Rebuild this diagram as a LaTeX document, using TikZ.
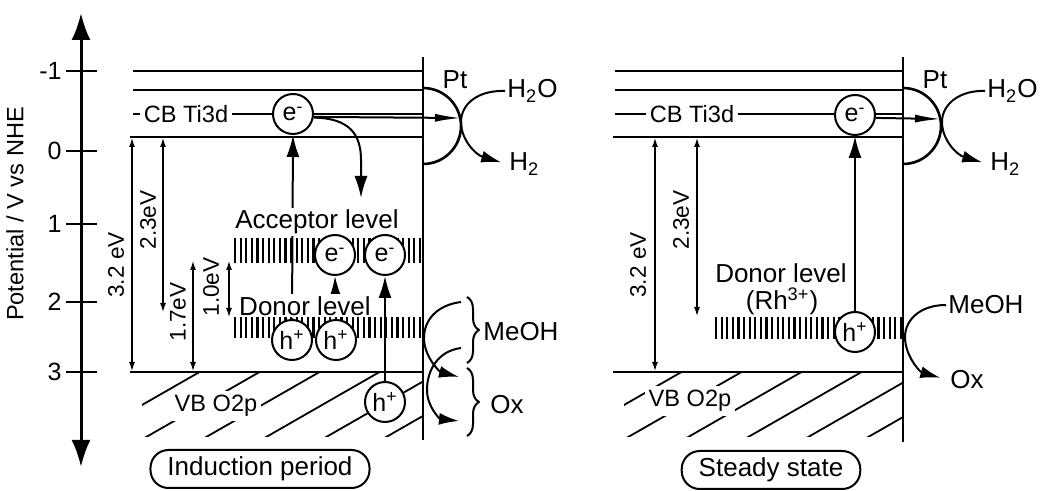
\documentclass[tikz,border=0pt]{standalone}
\usepackage{fontspec}
\setmainfont{Liberation Sans}
\usetikzlibrary{arrows.meta,decorations.pathreplacing}

\begin{document}
\begin{tikzpicture}[x=0.5pt, y=-0.5pt, line join=round]
  % Styles
  \tikzstyle{band}=[line width=1.3pt]
  \tikzstyle{carrier}=[circle, draw, fill=white, line width=1pt, minimum size=20pt, inner sep=0pt, font=\fontsize{12.5}{14}\selectfont]
  \tikzstyle{txt}=[font=\fontsize{13}{15}\selectfont, inner sep=1pt]
  \tikzstyle{lvltxt}=[font=\fontsize{13}{15}\selectfont, inner sep=1pt, fill=white]
  \tikzstyle{bandlabel}=[font=\fontsize{11.8}{14}\selectfont, fill=white, inner sep=2pt]
  \tikzstyle{gap}=[{Latex[length=5pt,width=3pt]}-{Latex[length=5pt,width=3pt]}, line width=1pt]
  \tikzstyle{gaplabel}=[font=\fontsize{11.3}{13}\selectfont, rotate=90, inner sep=1pt]
  \tikzstyle{excite}=[-{Latex[length=11pt,width=6.5pt]}, line width=1pt]
  \tikzstyle{inject}=[-{Latex[length=13pt,width=4pt]}, line width=1pt]
  \tikzstyle{flow}=[-{Latex[length=10pt,width=6pt]}, line width=1pt]
  \tikzstyle{levels}=[line width=1.1pt]
  \tikzstyle{hatchline}=[line width=0.9pt]
  \tikzstyle{tag}=[draw, rounded corners=9pt, line width=1pt, minimum height=19pt, inner xsep=8.5pt, font=\fontsize{13}{15}\selectfont]

  \useasboundingbox (0,0) rectangle (1040,491);

  % Potential axis
  \coordinate (axtop) at (81,13);
  \coordinate (axbot) at (81,467);
  \draw[line width=1.5pt, {Latex[length=13.5pt,width=9.5pt]}-{Latex[length=13.5pt,width=9.5pt]}] (axbot) -- (axtop);
  \foreach \v/\y in {-1/71,0/151,1/224,2/302,3/372} {
    \draw[band] (66,\y) -- (97,\y);
    \node[anchor=east, inner sep=1pt, font=\fontsize{12.5}{14}\selectfont] at (64,\y) {\v};
  }
  \node[rotate=90, font=\fontsize{11.8}{14}\selectfont] (axlabel) at (15,214) {Potential / V vs NHE};

  %%%%%%%%%%%%%%%% Induction period (left)
  % Bands
  \draw[band] (133,71) -- (423,71);
  \draw[band] (133,90) -- (423,90);
  \draw[band] (133,114) -- (423,114);
  \draw[band] (130,137) -- (423,137);
  \draw[band] (130,372) -- (423,372);
  \draw[band] (423,57) -- (423,440);

  % VB hatching
  \begin{scope}
    \clip (142,374) rectangle (422,437);
    \foreach \x in {93,153,...,393}
      \draw[hatchline] ({\x-12},440) -- ({\x+110},370);
  \end{scope}
  \node[bandlabel] (vbL) at (216,406) {VB O2p};
  \node[bandlabel] (cbL) at (186,114) {CB Ti3d};

  % Band gaps
  \coordinate (g1a) at (132,137); \coordinate (g1b) at (132,372);
  \coordinate (g2a) at (163,137); \coordinate (g2b) at (163,313);
  \coordinate (g3a) at (193,372); \coordinate (g3b) at (193,260);
  \coordinate (g4a) at (229,260); \coordinate (g4b) at (229,318);
  \draw[gap] (g1a) -- (g1b);
  \draw[gap] (g2a) -- (g2b);
  \draw[gap] (g3a) -- (g3b);
  \draw[gap] (g4a) -- (g4b);
  \node[gaplabel] at (116,265) {3.2 eV};
  \node[gaplabel] at (148,220) {2.3eV};
  \node[gaplabel] at (178,312) {1.7eV};
  \node[gaplabel] at (211,287) {1.0eV};

  % Carriers
  \node[carrier] (eL) at (293,114) {e\textsuperscript{-}};
  \node[carrier, draw=none, fill=none] (aL1) at (335,255) {};
  \node[carrier, draw=none, fill=none] (aL2) at (385,255) {};
  \node[carrier, draw=none, fill=none] (hL1) at (292,340) {};
  \node[carrier, draw=none, fill=none] (hL2) at (336,340) {};
  \node[carrier] (hL3) at (385,402) {h\textsuperscript{+}};

  % Transitions
  \draw[excite] (hL1.north) -- (eL.south);
  \draw[excite] (hL2.north) -- (aL1.south);
  \draw[excite] (hL3.north) -- (aL2.south);
  \coordinate (dropL) at (361,198);
  \draw[excite] (eL.-10) .. controls (350,118) and (361,135) .. (361,160) -- (dropL);

  % Levels
  \node[lvltxt] (accL) at (317,222) {Acceptor level};
  \node[lvltxt] (donL) at (305,306) {Donor level};
  \foreach \x in {235,240.6,...,420} \draw[levels] (\x,238) -- (\x,263);
  \foreach \x in {235,240.6,...,420} \draw[levels] (\x,317) -- (\x,338);
  \node[carrier] at (aL1) {e\textsuperscript{-}};
  \node[carrier] at (aL2) {e\textsuperscript{-}};
  \node[carrier] at (hL1) {h\textsuperscript{+}};
  \node[carrier] at (hL2) {h\textsuperscript{+}};

  % Pt and H2 evolution
  \coordinate (tipL) at (461,118);
  \draw[inject] (eL.-8) -- (tipL);
  \draw[band] (423,88) .. controls (444,88) and (461,105) .. (461,126) .. controls (461,147) and (444,164) .. (423,164);
  \node[txt] (ptL) at (455,80) {Pt};
  \node[txt, anchor=west] (h2oL) at (505,91) {H\textsubscript{2}O};
  \node[txt, anchor=west] (h2L) at (507,164) {H\textsubscript{2}};
  \draw[flow, shorten >=3pt] (h2oL.west) .. controls (478,90) and (461,104) .. (461,122) .. controls (461,140) and (476,155) .. (h2L.west);

  % MeOH oxidation
  \coordinate (m1L) at (461,302); \coordinate (m2L) at (459,377);
  \coordinate (m3L) at (461,348); \coordinate (m4L) at (459,421);
  \draw[flow] (m1L) .. controls (437,305) and (424,320) .. (424,338) .. controls (424,357) and (440,372) .. (m2L);
  \draw[flow] (m3L) .. controls (438,351) and (427,370) .. (427,390) .. controls (427,407) and (440,419) .. (m4L);
  \draw[line width=1pt, decorate, decoration={brace, amplitude=6pt}] (467,297) -- (467,363);
  \draw[line width=1pt, decorate, decoration={brace, amplitude=6pt}] (467,368) -- (467,436);
  \node[txt, anchor=west] (meohL) at (481,332) {MeOH};
  \node[txt, anchor=west] (oxL) at (488,405) {Ox};

  \node[tag] (indL) at (260,469) {Induction period};

  %%%%%%%%%%%%%%%% Steady state (right)
  % Bands
  \draw[band] (615,71) -- (903,71);
  \draw[band] (615,90) -- (903,90);
  \draw[band] (615,114) -- (903,114);
  \draw[band] (613,137) -- (903,137);
  \draw[band] (613,372) -- (903,372);
  \draw[band] (903,57) -- (903,442);

  % VB hatching
  \begin{scope}
    \clip (624,374) rectangle (902,437);
    \foreach \x in {575,635,...,875}
      \draw[hatchline] ({\x-12},440) -- ({\x+110},370);
  \end{scope}
  \node[bandlabel] (vbR) at (690,401) {VB O2p};
  \node[bandlabel] (cbR) at (692,114) {CB Ti3d};

  % Band gaps
  \coordinate (g5a) at (655,137); \coordinate (g5b) at (655,372);
  \coordinate (g6a) at (697,137); \coordinate (g6b) at (697,317);
  \draw[gap] (g5a) -- (g5b);
  \draw[gap] (g6a) -- (g6b);
  \node[gaplabel] at (638,265) {3.2 eV};
  \node[gaplabel] at (681,220) {2.3eV};

  % Donor level
  \foreach \x in {716,721.6,...,902} \draw[levels] (\x,317) -- (\x,339);
  \node[txt] (donR) at (781,273) {Donor level};
  \node[txt] (rhR) at (782,301) {(Rh\textsuperscript{3+})};

  % Carriers
  \node[carrier] (eR) at (855,115) {e\textsuperscript{-}};
  \node[carrier] (hR) at (855,332) {h\textsuperscript{+}};
  \draw[excite] (hR.north) -- (eR.south);

  % Pt and H2 evolution
  \coordinate (tipR) at (941,119);
  \draw[inject] (eR.-8) -- (tipR);
  \draw[band] (903,88) .. controls (924,88) and (941,105) .. (941,126) .. controls (941,147) and (924,164) .. (903,164);
  \node[txt] (ptR) at (935,80) {Pt};
  \node[txt, anchor=west] (h2oR) at (985,91) {H\textsubscript{2}O};
  \node[txt, anchor=west] (h2R) at (988,164) {H\textsubscript{2}};
  \draw[flow, shorten >=3pt] (h2oR.west) .. controls (960,90) and (942,104) .. (942,122) .. controls (942,140) and (957,155) .. (h2R.west);

  % MeOH oxidation
  \node[txt, anchor=west] (meohR) at (946,305) {MeOH};
  \node[txt, anchor=west] (oxR) at (948,380) {Ox};
  \draw[flow, shorten >=4pt] (meohR.west) .. controls (920,305) and (905,320) .. (905,337) .. controls (905,356) and (920,372) .. (oxR.west);

  \node[tag] (steadyR) at (771,470) {Steady state};
\end{tikzpicture}
\end{document}
